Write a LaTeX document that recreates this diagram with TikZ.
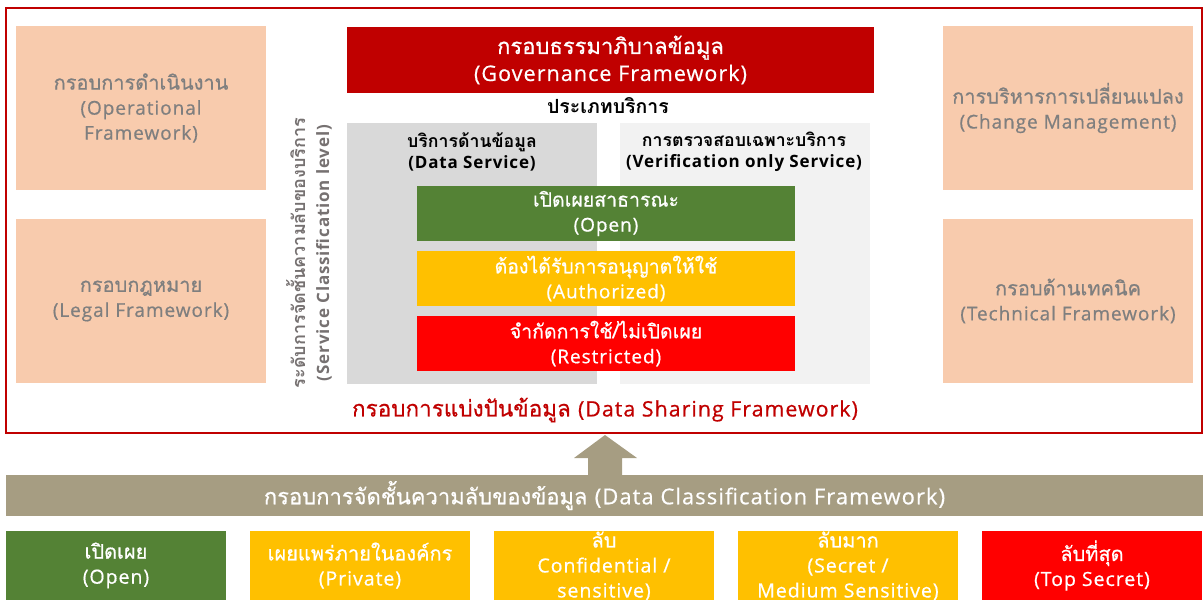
\documentclass[tikz,border=0pt]{standalone}
\usepackage{fontspec}
\setmainfont[Script=Thai, UprightFeatures={FakeBold=0.6}]{Loma}
\newfontfamily\lat[LetterSpace=5, UprightFeatures={FakeBold=0.6}]{Open Sans}
\usetikzlibrary{positioning}
\definecolor{peach}{HTML}{F8CBAD}
\definecolor{peachtxt}{HTML}{7F7F7F}
\definecolor{darkred}{HTML}{C00000}
\definecolor{grn}{HTML}{548235}
\definecolor{yel}{HTML}{FFC000}
\definecolor{brightred}{HTML}{FF0000}
\definecolor{gbox}{HTML}{D9D9D9}
\definecolor{lbox}{HTML}{F2F2F2}
\definecolor{khaki}{HTML}{A69D82}
\definecolor{vtxt}{HTML}{767171}
\newcommand{\fs}[2]{\fontsize{#1}{#2}\selectfont}
\tikzset{
  peachbox/.style={fill=peach, minimum width=250pt, minimum height=164pt, inner sep=0pt, text=peachtxt, align=center, font=\fs{19}{25}},
  levelbox/.style={minimum width=378pt, minimum height=55pt, inner sep=0pt, text=white, align=center, font=\fs{19}{25}},
  svcbox/.style={minimum width=250pt, minimum height=261pt, inner sep=0pt},
  svclabel/.style={align=center, font=\bfseries\fs{17}{21}},
  bottombox/.style={minimum width=220pt, minimum height=130pt, inner sep=0pt, anchor=north},
  btext/.style={text=white, align=center, font=\fs{19.5}{25}},
}
\begin{document}
\begin{tikzpicture}[x=1pt,y=-1pt]
\useasboundingbox (0,0) rectangle (1203,600);
\clip (0,0) rectangle (1203,600);
% outer frame
\draw[darkred, line width=1.5pt] (6,8) rectangle (1202,433);
% side boxes
\node[peachbox] (oper) at (141,108) {{\fs{20}{25}กรอบการดำเนินงาน}\\{\lat (Operational}\\{\lat Framework)}};
\node[peachbox] (legal) at (141,301) {{\fs{20}{25}กรอบกฎหมาย}\\{\lat (Legal Framework)}};
\node[peachbox] (change) at (1068,108) {{\fs{20}{25}การบริหารการเปลี่ยนแปลง}\\{\lat (Change Management)}};
\node[peachbox] (tech) at (1068,301) {{\fs{20}{25}กรอบด้านเทคนิค}\\{\lat (Technical Framework)}};
% governance
\node[fill=darkred, minimum width=527pt, minimum height=66pt, inner sep=0pt, text=white, align=center, font=\fs{21.5}{27}] (gov) at (610.5,60) {{\fs{22}{27}กรอบธรรมาภิบาลข้อมูล}\\{\lat (Governance Framework)}};
\node[font=\bfseries\fs{19.5}{20}] (svctype) at (608,106) {ประเภทบริการ};
% service boxes
\node[svcbox, fill=gbox] (ds) at (472,253.5) {};
\node[svcbox, fill=lbox] (vs) at (745,253.5) {};
\node[svclabel] (dslab) at (472,151.5) {{\fs{17.7}{21}บริการด้านข้อมูล}\\{\lat (Data Service)}};
\node[svclabel] (vslab) at (744,151.5) {{\fs{17.7}{21}การตรวจสอบเฉพาะบริการ}\\{\lat (Verification only Service)}};
% levels
\node[levelbox, fill=grn] (open) at (606,213.5) {{\fs{19.5}{25}เปิดเผยสาธารณะ}\\{\lat (Open)}};
\node[levelbox, fill=yel] (auth) at (606,278.5) {{\fs{19.5}{25}ต้องได้รับการอนุญาตให้ใช้}\\{\lat (Authorized)}};
\node[levelbox, fill=brightred] (restr) at (606,343.5) {{\fs{19.5}{25}จำกัดการใช้/ไม่เปิดเผย}\\{\lat (Restricted)}};
% vertical label
\node[rotate=90, text=vtxt, align=center, font=\bfseries\fs{17}{24}] (vlab) at (309,253) {{\fs{18}{24}ระดับการจัดชั้นความลับของบริการ}\\{\lat (Service Classification level)}};
% data sharing label
\node[text=darkred, font=\fs{21.3}{24}] (dsf) at (605,410) {{\fs{22.5}{24}กรอบการแบ่งปันข้อมูล} {\lat (Data Sharing Framework)}};
% band
\node[fill=khaki, minimum width=1197pt, minimum height=41pt, inner sep=0pt, text=white, font=\fs{21.9}{24}] (band) at (604.5,495.5) {{\fs{22}{24}กรอบการจัดชั้นความลับของข้อมูล} {\lat (Data Classification Framework)}};
% arrow
\fill[khaki] (605,435) -- (637,458) -- (622,458) -- (622,476) -- (588,476) -- (588,458) -- (574,458) -- cycle;
% bottom boxes
\node[bottombox, fill=grn] (b1) at (116,531) {};
\node[btext] (t1) at (116,565.5) {{\fs{20}{25}เปิดเผย}\\{\lat (Open)}};
\node[bottombox, fill=yel] (b2) at (360,531) {};
\node[btext] (t2) at (360,565.5) {{\fs{20}{25}เผยแพร่ภายในองค์กร}\\{\lat (Private)}};
\node[bottombox, fill=yel] (b3) at (604,531) {};
\node[btext] (t3) at (604,566) {{\fs{20}{25}ลับ}\\{\lat Confidential /}\\{\lat sensitive)}};
\node[bottombox, fill=yel] (b4) at (848,531) {};
\node[btext] (t4) at (848,566) {{\fs{20}{25}ลับมาก}\\{\lat (Secret /}\\{\lat Medium Sensitive)}};
\node[bottombox, fill=brightred] (b5) at (1092,531) {};
\node[btext] (t5) at (1092,565.5) {{\fs{20}{25}ลับที่สุด}\\{\lat (Top Secret)}};
\end{tikzpicture}
\end{document}
